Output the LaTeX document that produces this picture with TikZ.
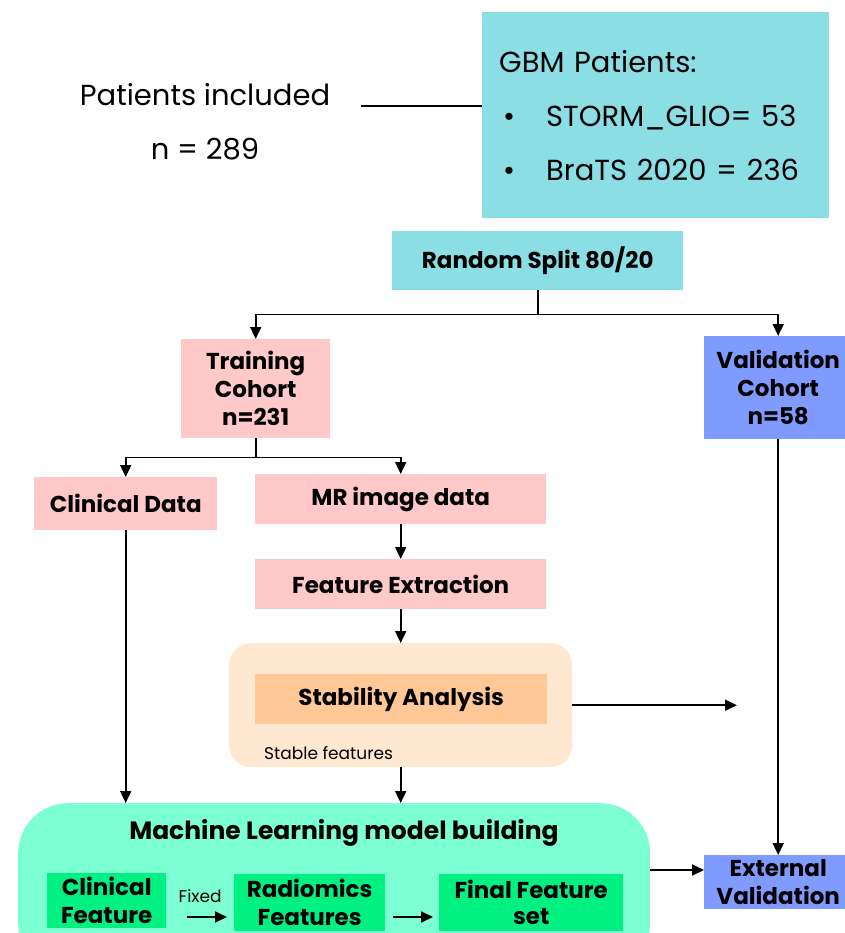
\documentclass[tikz,border=0pt]{standalone}
\usepackage{fontspec}
\setmainfont{Poppins}
\usetikzlibrary{positioning,arrows.meta}
\definecolor{gbmcyan}{HTML}{8BDEE3}
\definecolor{trainpink}{HTML}{FFC9C9}
\definecolor{validblue}{HTML}{7F9BFF}
\definecolor{stabpeach}{HTML}{FFE8D1}
\definecolor{staborange}{HTML}{FFC896}
\definecolor{mlaqua}{HTML}{7CFFD2}
\definecolor{featgreen}{HTML}{00F082}
\newcommand\boxfont{\fontsize{23}{28}\selectfont\bfseries}
\newcommand\plainfont{\fontsize{29}{54}\selectfont}
\newcommand\smallfont{\fontsize{17}{20}\selectfont}
\tikzset{
  % Specifications for style of nodes:
  base/.style = {
    rectangle,
    inner sep=0pt,
    anchor=north west,
    align=center,
    font=\boxfont
  },
  cyanbox/.style = {base, fill=gbmcyan},
  trainbox/.style = {base, fill=trainpink},
  validbox/.style = {base, fill=validblue},
  stabbox/.style = {base, fill=staborange},
  featbox/.style = {base, fill=featgreen},
  wrapbox/.style = {
    base,
    rounded corners=22pt,
    fill=stabpeach
  },
  mlbox/.style = {
    base,
    rounded corners=50pt,
    fill=mlaqua
  },
  arrow/.style = {
    draw=black,
    line width=1.8pt,
    -{Triangle[length=12pt,width=11pt]}
  },
}

\begin{document}
\begin{tikzpicture}[x=1pt, y=-1pt]
    \useasboundingbox (0,0) rectangle (844,933);
    % Patients and data sources
    \node[font=\plainfont, align=center] (included) at (205,122) {Patients included\\n = 289};
    \node[cyanbox, font=\plainfont, align=left, minimum width=347pt, minimum height=206pt,
          text width=313pt] (gbm) at (482,12)
      {GBM Patients:\\\makebox[47pt][l]{\hspace{4pt}•}STORM\_GLIO= 53\\\makebox[47pt][l]{\hspace{4pt}•}BraTS 2020 = 236};
    \coordinate (linestart) at (361,106);
    \draw[line width=1.6pt] (linestart) -- (linestart -| gbm.west);
    % Split and cohorts
    \node[cyanbox, minimum width=291pt, minimum height=59pt] (split) at (392,231) {Random Split 80/20};
    \node[trainbox, minimum width=149pt, minimum height=99pt] (training) at (181,339) {Training\\Cohort\\n=231};
    \node[validbox, minimum width=148pt, minimum height=103pt] (validation) at (704,336) {Validation\\Cohort\\n=58};
    \node[trainbox, minimum width=183pt, minimum height=53pt] (clinical) at (34,477) {Clinical Data};
    \node[trainbox, minimum width=291pt, minimum height=50pt] (mrdata) at (255,474) {MR image data};
    \node[trainbox, minimum width=291pt, minimum height=50pt] (extraction) at (255,559) {Feature Extraction};
    % Stability block
    \node[wrapbox, minimum width=343pt, minimum height=124pt] (stabwrap) at (229,643) {};
    \node[stabbox, minimum width=292pt, minimum height=50pt] (stability) at (255,674) {Stability Analysis};
    \node[font=\smallfont, anchor=west, inner sep=0pt] (stablefeat) at (264,753) {Stable features};
    \coordinate (stabend) at (737,705);
    % Model building
    \node[mlbox, minimum width=632pt, minimum height=170pt] (ml) at (18,803) {};
    \node[font=\fontsize{25}{30}\selectfont\bfseries] (mltitle) at (344,833) {Machine Learning model building};
    \node[featbox, minimum width=119pt, minimum height=55pt] (clinfeat) at (47,873) {Clinical\\Feature};
    \node[featbox, minimum width=151pt, minimum height=57pt] (radfeat) at (234,874) {Radiomics\\Features};
    \node[featbox, minimum width=184pt, minimum height=57pt, font=\fontsize{23}{26}\selectfont\bfseries] (finalfeat) at (439,874) {Final Feature\\set};
    \node[validbox, minimum width=148pt, minimum height=54pt] (external) at (704,855) {External\\Validation};
    % Connectors
    \draw[arrow] (split.south) -- ++(0,24) -| (training.north);
    \draw[arrow] (split.south) -- ++(0,24) -| (validation.north);
    \draw[arrow] (training.south) -- ++(0,19) -| (clinical.north);
    \draw[arrow] (training.south) -- ++(0,19) -| (mrdata.north);
    \draw[arrow] (mrdata) -- (extraction);
    \draw[arrow] (extraction.south) -- (stabwrap.north -| extraction);
    \draw[arrow] (stabwrap.east) -- (stabwrap.east -| stabend);
    \draw[arrow] (stabwrap.south -| mrdata) -- (ml.north -| mrdata);
    \draw[arrow] (clinical) -- (clinical |- ml.north);
    \draw[arrow] (validation) -- (external);
    \draw[arrow] (ml.east |- 0,870) -- (external.west |- 0,870);
    \draw[arrow, shorten <=21pt, shorten >=7pt] (clinfeat.east |- 0,917) -- node[above=10pt, font=\smallfont] (fixed) {Fixed} (radfeat.west |- 0,917);
    \draw[arrow, shorten <=8pt, shorten >=6pt] (radfeat.east |- 0,917) -- (finalfeat.west |- 0,917);
\end{tikzpicture}
\end{document}
